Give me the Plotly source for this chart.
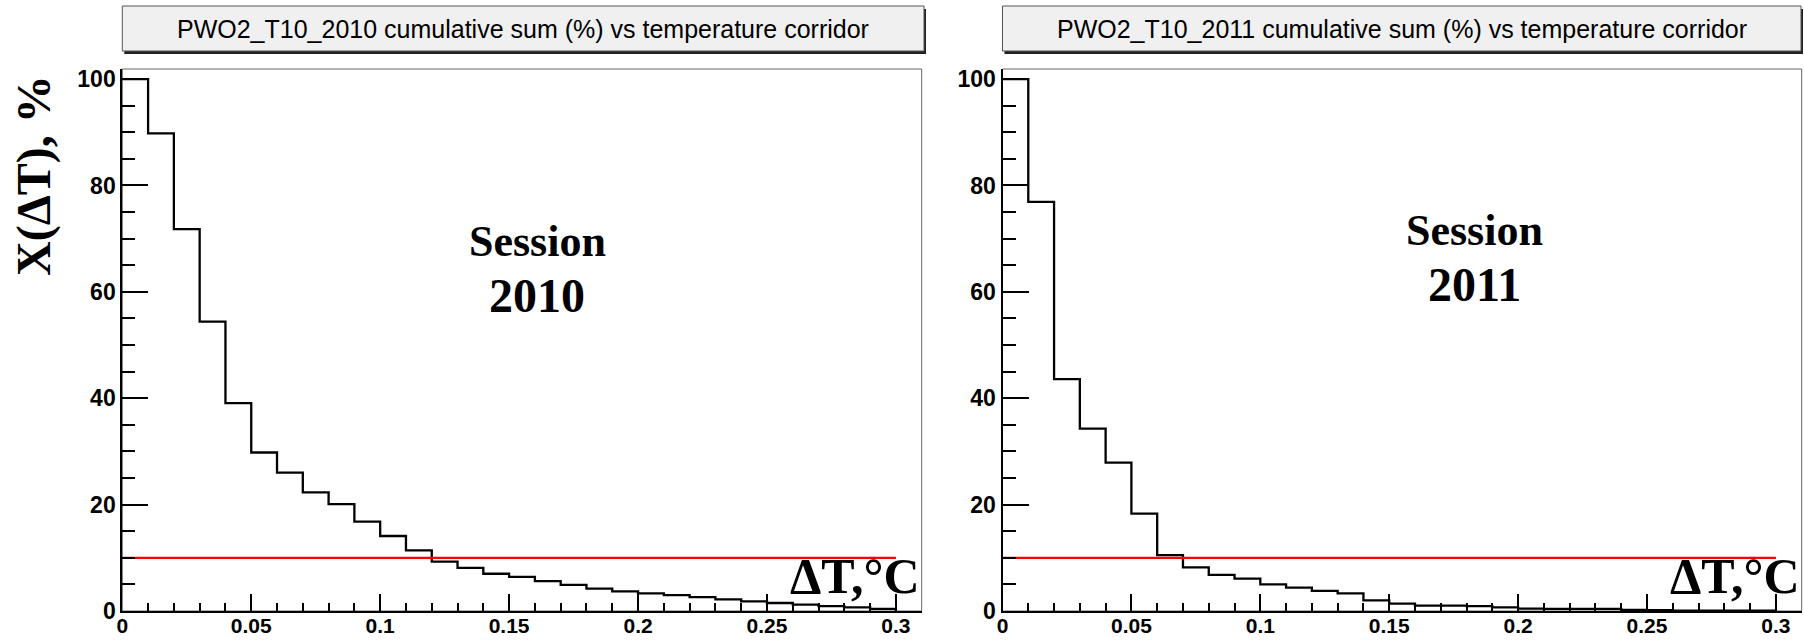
import plotly.graph_objects as go

# ---------------- data ----------------
bin_edges = [0.00, 0.01, 0.02, 0.03, 0.04, 0.05, 0.06, 0.07, 0.08, 0.09, 0.10,
             0.11, 0.12, 0.13, 0.14, 0.15, 0.16, 0.17, 0.18, 0.19, 0.20,
             0.21, 0.22, 0.23, 0.24, 0.25, 0.26, 0.27, 0.28, 0.29, 0.30]

cum_2010 = [100, 89.8, 71.8, 54.4, 39.1, 29.8, 26.0, 22.3, 20.1, 16.8,
            14.1, 11.4, 9.3, 8.1, 7.0, 6.4, 5.6, 4.9, 4.2, 3.7,
            3.3, 3.0, 2.6, 2.2, 1.8, 1.5, 1.2, 0.9, 0.7, 0.4]

cum_2011 = [100, 76.9, 43.6, 34.3, 27.9, 18.3, 10.5, 8.2, 6.8, 6.1,
            5.0, 4.4, 3.8, 3.3, 2.0, 1.4, 1.0, 1.0, 0.9, 0.7,
            0.45, 0.4, 0.4, 0.4, 0.2, 0.15, 0.05, 0.05, 0.05, 0.05]

threshold = 10
corridor_end = 0.30

titles = ["PWO2_T10_2010 cumulative sum (%) vs temperature corridor",
          "PWO2_T10_2011 cumulative sum (%) vs temperature corridor"]
sessions = ["2010", "2011"]
session_pos = [(0.161, 69.5, 59.3), (0.183, 71.6, 61.3)]

x_ticks = [0, 0.05, 0.1, 0.15, 0.2, 0.25, 0.3]
y_ticks = [0, 20, 40, 60, 80, 100]

# ---------------- layout geometry ----------------
W, H = 1804, 642
def px(x):
    return x / W
def py(y):
    return (H - y) / H

panels = [
    dict(xd=[px(122.3), px(921.7)], box=(122.3, 924.0), xa="x", ya="y"),
    dict(xd=[px(1002.5), px(1801.7)], box=(1002.5, 1801.0), xa="x2", ya="y2"),
]
ydom = [py(611), py(69)]

fig = go.Figure()
shapes = []
annotations = []

serif = "Liberation Serif, Times New Roman, serif"
sans = "Liberation Sans, Arial, Helvetica, sans-serif"

for i, (vals, p) in enumerate(zip([cum_2010, cum_2011], panels)):
    xs = list(bin_edges) + [bin_edges[-1]]
    ys = list(vals) + [vals[-1], 0]
    fig.add_trace(go.Scatter(x=xs, y=ys, mode="lines", line=dict(color="black", width=2.3, shape="hv"),
                             xaxis=p["xa"], yaxis=p["ya"], showlegend=False, hoverinfo="skip"))
    fig.add_trace(go.Scatter(x=[0, corridor_end], y=[threshold, threshold], mode="lines",
                             line=dict(color="#ff0000", width=2.2),
                             xaxis=p["xa"], yaxis=p["ya"], showlegend=False, hoverinfo="skip"))

    axn = "" if i == 0 else "2"
    shapes.append(dict(type="rect", xref=f"x{axn} domain", yref=f"y{axn} domain",
                       x0=0, x1=1, y0=0, y1=1, line=dict(color="#666666", width=1), layer="below"))
    bx0, bx1 = p["box"]
    shapes.append(dict(type="rect", xref="paper", yref="paper",
                       x0=px(bx0 + 2), x1=px(bx1 + 2), y0=py(54), y1=py(9),
                       fillcolor="#222222", line=dict(width=0)))
    shapes.append(dict(type="rect", xref="paper", yref="paper",
                       x0=px(bx0), x1=px(bx1), y0=py(51), y1=py(6),
                       fillcolor="#f0f0f0", line=dict(color="#555555", width=1)))
    annotations.append(dict(text=titles[i], xref="paper", yref="paper",
                            x=px((bx0 + bx1) / 2), y=py(29), xanchor="center", yanchor="middle",
                            showarrow=False, font=dict(family=sans, size=25, color="black")))
    sx, sy1, sy2 = session_pos[i]
    annotations.append(dict(text="<b>Session</b>", xref=f"x{axn}", yref=f"y{axn}", x=sx, y=sy1,
                            showarrow=False, font=dict(family=serif, size=44, color="black")))
    annotations.append(dict(text=f"<b>{sessions[i]}</b>", xref=f"x{axn}", yref=f"y{axn}", x=sx, y=sy2,
                            showarrow=False, font=dict(family=serif, size=48, color="black")))
    annotations.append(dict(text="<b>ΔT,°C</b>", xref=f"x{axn} domain", yref=f"y{axn}", x=1.0, y=6.6,
                            xanchor="right", yanchor="middle",
                            showarrow=False, font=dict(family=serif, size=50, color="black")))

annotations.append(dict(text="<b>X(ΔT), %</b>", xref="paper", yref="paper", x=px(34), y=py(176),
                        textangle=-90, showarrow=False, xanchor="center", yanchor="middle",
                        font=dict(family=serif, size=48, color="black")))

xcommon = dict(range=[0, 0.31], tickvals=x_ticks, ticktext=[f"{v:g}" for v in x_ticks],
               ticks="inside", ticklen=17, tickwidth=2, tickcolor="black",
               minor=dict(dtick=0.01, tick0=0, ticks="inside", ticklen=8, tickwidth=2, tickcolor="black"),
               showline=True, linecolor="black", linewidth=2, mirror=False, showgrid=False, zeroline=False,
               tickfont=dict(family=sans, size=21, color="black", weight="bold"),
               ticklabelstandoff=-5,
               fixedrange=True, automargin=False)
ycommon = dict(range=[0, 101.9], tickvals=y_ticks, ticks="inside", ticklen=26, tickwidth=2,
               tickcolor="black",
               minor=dict(dtick=5, tick0=0, ticks="inside", ticklen=13, tickwidth=2, tickcolor="black"),
               showline=True, linecolor="black", linewidth=2, mirror=False, showgrid=False, zeroline=False,
               tickfont=dict(family=sans, size=23, color="black", weight="bold"),
               fixedrange=True, automargin=False)

fig.update_layout(
    width=W, height=H, margin=dict(l=0, r=0, t=0, b=0),
    paper_bgcolor="white", plot_bgcolor="white",
    xaxis=dict(domain=panels[0]["xd"], anchor="y", **xcommon),
    yaxis=dict(domain=ydom, anchor="x", **ycommon),
    xaxis2=dict(domain=panels[1]["xd"], anchor="y2", **xcommon),
    yaxis2=dict(domain=ydom, anchor="x2", **ycommon),
    shapes=shapes, annotations=annotations, showlegend=False,
)

fig.write_html("out.html", config={"displayModeBar": False},
               post_script="document.body.style.margin='0';document.body.style.overflow='hidden';")
